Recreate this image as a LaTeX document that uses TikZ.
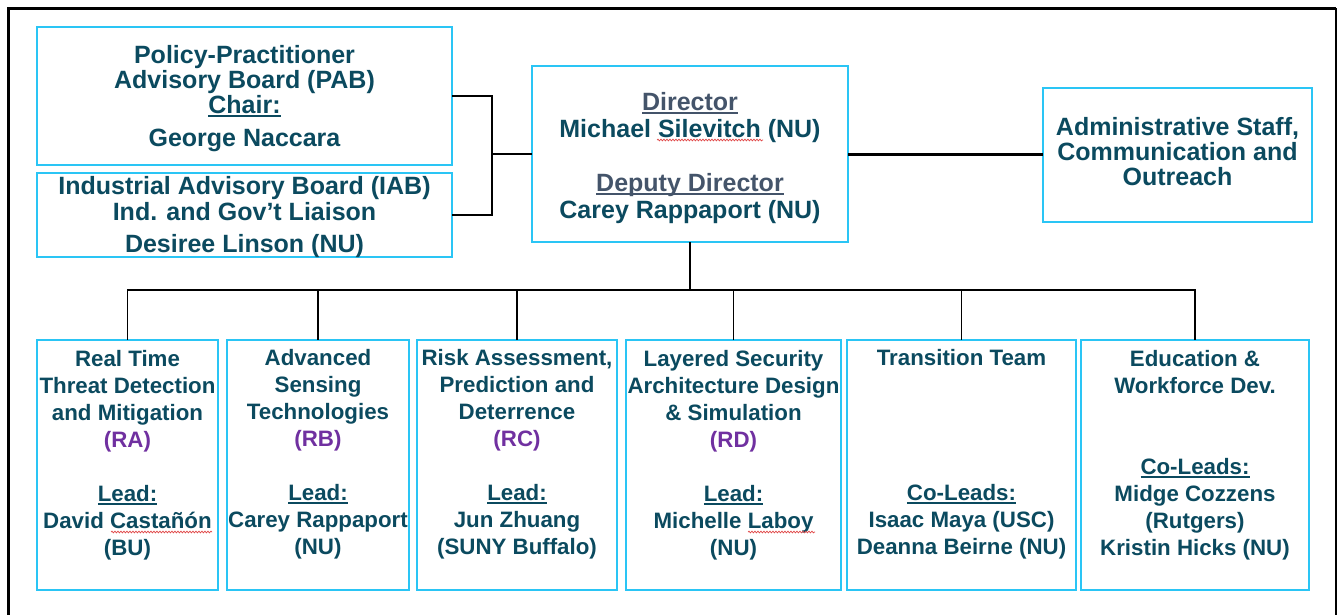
\documentclass[tikz,border=0pt]{standalone}
\usepackage{fontspec}
\setmainfont{Liberation Sans}
\usetikzlibrary{decorations.pathmorphing}
\definecolor{ink}{HTML}{0B4A5F}
\definecolor{headink}{HTML}{44546A}
\definecolor{tag}{HTML}{7030A0}
\definecolor{rim}{HTML}{2AC5F5}
\definecolor{spell}{HTML}{E04848}
% underlined word
\newcommand\ulw[1]{\setbox0\hbox{#1}\rlap{\rule[-3.5pt]{\wd0}{2pt}}\box0}
% fixed height for the first line of every label
\newcommand\tstrut{\rule{0pt}{22pt}}
\begin{document}
\begin{tikzpicture}[x=1pt,y=-1pt,
  box/.style={draw=rim, line width=2pt, rectangle, inner sep=0pt, outer sep=0pt},
  big/.style={text=ink, font=\bfseries\fontsize{25}{25}\selectfont, align=center,
              anchor=north, inner sep=0pt, outer sep=0pt},
  small/.style={text=ink, font=\bfseries\fontsize{22.3}{27}\selectfont, align=center,
              anchor=north, inner sep=0pt, outer sep=0pt},
  link/.style={line width=1.6pt, black},
  squig/.style={spell, line width=0.7pt, decorate,
                decoration={snake, amplitude=0.9pt, segment length=3pt}},
]
\useasboundingbox (0,0) rectangle (1338,614);

% page frame
\draw[line width=3pt, line join=miter] (8.5,630) -- (8.5,8) -- (1336,8);
\draw[line width=2pt] (1336,8) -- (1336,630);

% boxes
\node[box, minimum width=415pt, minimum height=138pt] (pab) at (244.5,96) {};
\node[box, minimum width=415pt, minimum height=84pt]  (iab) at (244.5,215) {};
\node[box, minimum width=316pt, minimum height=176pt] (dir) at (690,154) {};
\node[box, minimum width=269pt, minimum height=134pt] (adm) at (1177.5,155) {};
\node[box, minimum width=181pt, minimum height=250pt] (ra) at (127.5,465) {};
\node[box, minimum width=182pt, minimum height=250pt] (rb) at (318,465) {};
\node[box, minimum width=200pt, minimum height=250pt] (rc) at (517,465) {};
\node[box, minimum width=215pt, minimum height=250pt] (rd) at (733.5,465) {};
\node[box, minimum width=229pt, minimum height=250pt] (tt) at (961.5,465) {};
\node[box, minimum width=228pt, minimum height=250pt] (ew) at (1195,465) {};

% labels
\node[big] (pabt) at (244.5,41)
  {\tstrut Policy-Practitioner\\ Advisory Board (PAB)\\ \ulw{Chair:}\\[8pt] George Naccara};
\node[big, font=\bfseries\fontsize{25}{26}\selectfont] (iabt) at (244.5,172)
  {\tstrut Industrial Advisory Board (IAB)\\ Ind. and Gov’t Liaison\\[6pt] Desiree Linson (NU)};
\node[big, font=\bfseries\fontsize{25}{27}\selectfont] (dirt) at (690,88)
  {\tstrut\textcolor{headink}{\ulw{Director}}\\ Michael Silevitch (NU)\\ \mbox{}\\
   \textcolor{headink}{\ulw{Deputy Director}}\\ Carey Rappaport (NU)};
\node[big, font=\bfseries\fontsize{25}{25.3}\selectfont] (admt) at (1177.5,113)
  {\tstrut Administrative Staff,\\ Communication and\\ Outreach};

\node[small] (rat) at (127.5,344)
  {\tstrut Real Time\\ Threat Detection\\ and Mitigation\\ \textcolor{tag}{(RA)}\\ \mbox{}\\
   \ulw{Lead:}\\ David Castañón\\ (BU)};
\node[small] (rbt) at (318,343)
  {\tstrut Advanced\\ Sensing\\ Technologies\\ \textcolor{tag}{(RB)}\\ \mbox{}\\
   \ulw{Lead:}\\ Carey Rappaport\\ (NU)};
\node[small] (rct) at (517,343)
  {\tstrut Risk Assessment,\\ Prediction and\\ Deterrence\\ \textcolor{tag}{(RC)}\\ \mbox{}\\
   \ulw{Lead:}\\ Jun Zhuang\\ (SUNY Buffalo)};
\node[small] (rdt) at (733.5,344)
  {\tstrut Layered Security\\ Architecture Design\\ \& Simulation\\ \textcolor{tag}{(RD)}\\ \mbox{}\\
   \ulw{Lead:}\\ Michelle Laboy\\ (NU)};
\node[small] (ttt) at (961.5,343)
  {\tstrut Transition Team\\ \mbox{}\\ \mbox{}\\ \mbox{}\\ \mbox{}\\
   \ulw{Co-Leads:}\\ Isaac Maya (USC)\\ Deanna Beirne (NU)};
\node[small] (ewt) at (1195,344)
  {\tstrut Education \&\\ Workforce Dev.\\ \mbox{}\\ \mbox{}\\
   \ulw{Co-Leads:}\\ Midge Cozzens\\ (Rutgers)\\ Kristin Hicks (NU)};

% spelling marks
\draw[squig] (657,140) -- (763,140);
\draw[squig] (111,532) -- (212,532);
\draw[squig] (748,532) -- (815,532);

% connectors
\coordinate (pj) at (492,154);
\draw[link] (pab.east) -| (pj) |- (iab.east);
\draw[link] (pj) -- (dir.west);
\draw[line width=3pt] (dir.east) -- (adm.west |- dir.east);
\coordinate (hub) at (690,290);
\draw[link] (dir.south) -- (hub);
\foreach \b in {ra,rb,rc,rd,tt,ew} \draw[link] (hub) -| (\b.north);
\end{tikzpicture}
\end{document}
